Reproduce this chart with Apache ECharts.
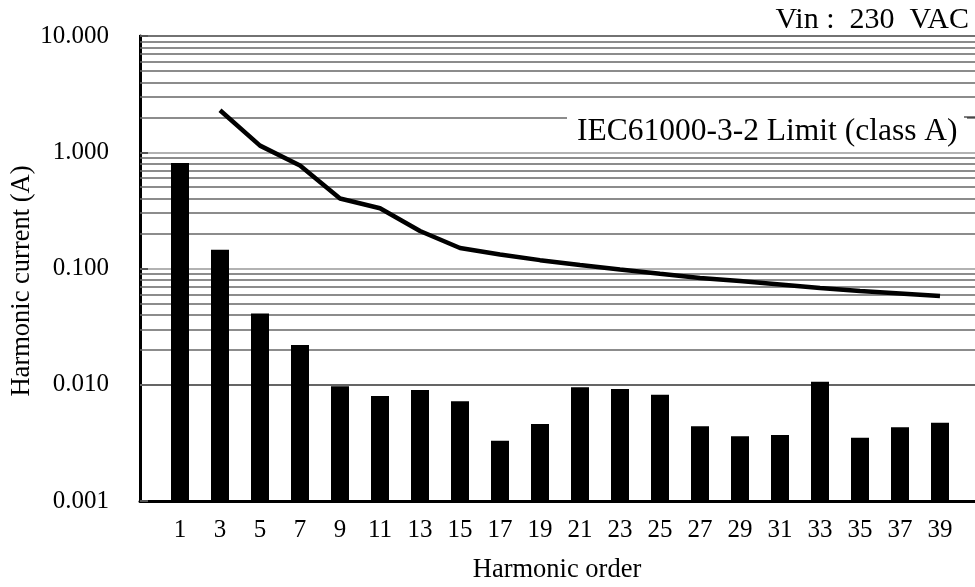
<!DOCTYPE html>
<html>
<head>
<meta charset="utf-8">
<script src="https://cdn.jsdelivr.net/npm/echarts@6/dist/echarts.min.js"></script>
<style>
html,body{margin:0;padding:0;background:#fff;}
#chart{width:975px;height:587px;}
</style>
</head>
<body>
<div id="chart"></div>
<script>
const harmonics = [1,3,5,7,9,11,13,15,17,19,21,23,25,27,29,31,33,35,37,39];
const measured = [0.81,0.145,0.041,0.022,0.0097,0.0080,0.0090,0.0072,0.0033,0.0046,0.0095,0.0092,0.0082,0.0044,0.0036,0.0037,0.0106,0.0035,0.0043,0.0047];
const limitOrders = [3,5,7,9,11,13,15,17,19,21,23,25,27,29,31,33,35,37,39];
const limitValues = [2.30,1.14,0.77,0.40,0.33,0.21,0.15,0.132,0.118,0.107,0.098,0.090,0.083,0.078,0.073,0.068,0.064,0.061,0.058];
const yTicks = [0.001,0.01,0.1,1,10];
const minorGrid = [0.002,0.003,0.004,0.005,0.006,0.007,0.008,0.009,
                   0.02,0.03,0.04,0.05,0.06,0.07,0.08,0.09,
                   0.2,0.3,0.4,0.5,0.6,0.7,0.8,0.9,
                   2,3,4,5,6,7,8,9];
const yMin = yTicks[0], yMax = yTicks[yTicks.length-1];

const categories = [''].concat(harmonics.map(String)).concat(['']);
const barData = harmonics.map((h, i) => [String(h), measured[i]]);
const limitData = categories.map(c => {
  const i = limitOrders.indexOf(Number(c));
  return (c !== '' && i >= 0) ? limitValues[i] : null;
});

const FONT = '"Liberation Serif","Times New Roman",serif';
const chart = echarts.init(document.getElementById('chart'), null, {renderer:'canvas'});
chart.setOption({
  animation:false,
  backgroundColor:'#fff',
  grid:{left:140, top:36, width:840, height:465, containLabel:false, outerBoundsMode:'none',
        show:true, borderColor:'#000', borderWidth:2, backgroundColor:'transparent'},
  xAxis:{
    type:'category', data:categories, boundaryGap:false,
    axisLine:{lineStyle:{color:'#000', width:3}},
    axisTick:{show:false},
    axisLabel:{interval:0, color:'#000', fontFamily:FONT, fontSize:25, margin:17},
    splitLine:{show:false}
  },
  yAxis:{
    type:'log', logBase:10, min:yMin, max:yMax,
    axisLine:{show:true, lineStyle:{color:'#000', width:3}},
    axisTick:{show:true, inside:true, length:8, lineStyle:{color:'#555', width:2}},
    axisLabel:{color:'#000', fontFamily:FONT, fontSize:25, margin:31,
      formatter:v => Number(v).toFixed(3)},
    splitLine:{show:true, lineStyle:{color:'#999', width:1.5}},
    minorTick:{show:false}, minorSplitLine:{show:false}
  },
  series:[
    {
      type:'line', data:[], z:1, silent:true,
      markLine:{
        silent:true, symbol:['none','none'], z:1, animation:false,
        label:{show:false},
        lineStyle:{color:'#666', type:'solid', width:1.5},
        data:minorGrid.map(v => ({yAxis:v}))
      }
    },
    {
      type:'custom', data:barData, z:3,
      encode:{x:0, y:1},
      renderItem:(params, api) => {
        const top = api.coord([api.value(0), api.value(1)]);
        const base = api.coord([api.value(0), yMin]);
        const w = 18;
        return {type:'rect', shape:{x:top[0]-w/2, y:top[1], width:w, height:base[1]-top[1]},
                style:{fill:'#000'}};
      }
    },
    {
      type:'line', data:limitData, z:4, showSymbol:false, symbol:'none',
      connectNulls:false,
      lineStyle:{color:'#000', width:4.5}
    }
  ],
  graphic:[
    {type:'text', x:969, y:20, z:10,
     style:{text:'Vin :  230  VAC', font:'30px '+FONT, fill:'#000', textAlign:'right', textVerticalAlign:'middle'}},
    {type:'rect', x:567, y:112, z:10, shape:{width:400, height:40}, style:{fill:'#fff'}},
    {type:'text', x:577, y:132, z:11,
     style:{text:'IEC61000-3-2 Limit (class A)', font:'31.5px '+FONT, fill:'#000', textAlign:'left', textVerticalAlign:'middle'}},
    {type:'line', x:0, y:0, z:11, shape:{x1:964, y1:117, x2:975, y2:117}, style:{stroke:'#000', lineWidth:1}},
    {type:'text', x:22, y:281, rotation:Math.PI/2, z:10,
     style:{text:'Harmonic current (A)', font:'26.5px '+FONT, fill:'#000', textAlign:'center', textVerticalAlign:'middle'}},
    {type:'text', x:557, y:570, z:10,
     style:{text:'Harmonic order', font:'26.5px '+FONT, fill:'#000', textAlign:'center', textVerticalAlign:'middle'}}
  ]
});
</script>
</body>
</html>
